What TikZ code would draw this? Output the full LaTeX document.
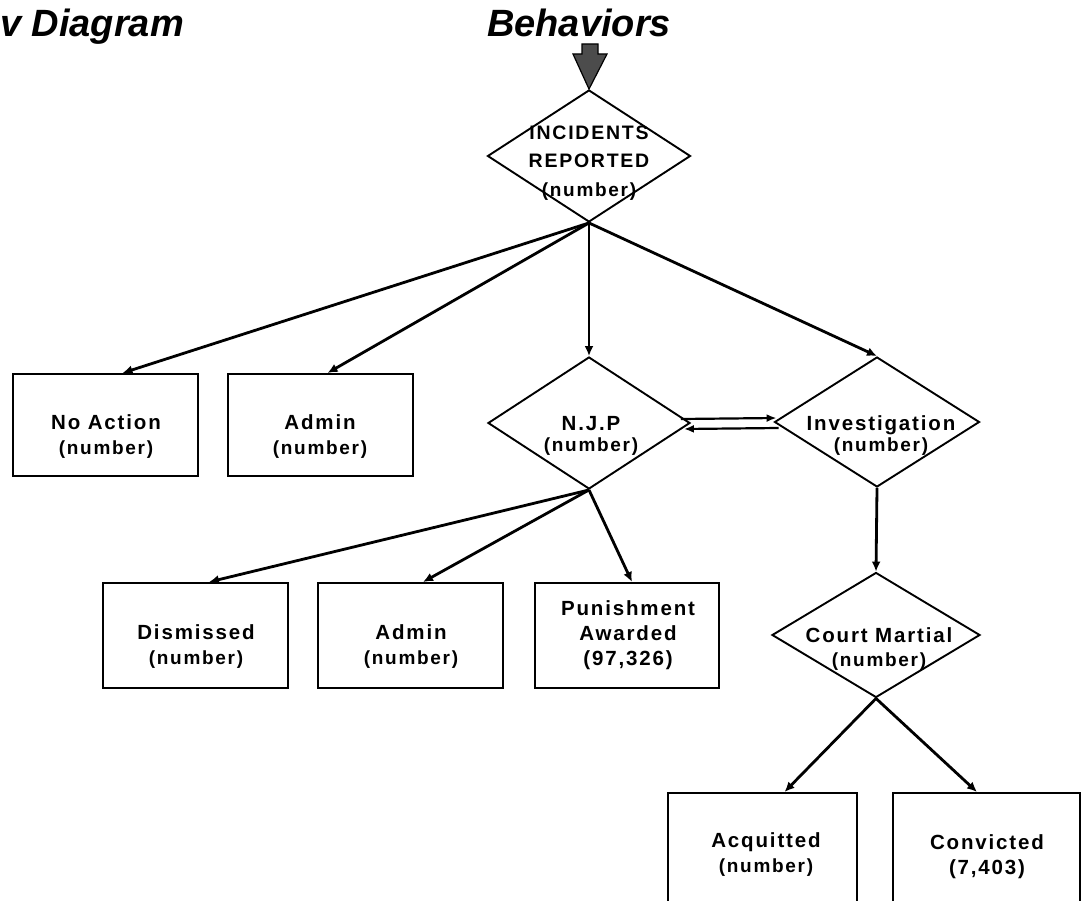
\documentclass[tikz,border=0pt]{standalone}
\usepackage{fontspec}
\setmainfont{Liberation Sans}
\newfontfamily\lblfont[LetterSpace=9]{Liberation Sans}
\usetikzlibrary{shapes.geometric,arrows.meta}
\newcommand\numtxt{{\fontsize{19}{25}\selectfont(number)}}
\begin{document}
\begin{tikzpicture}[x=1pt,y=-1pt,
  title/.style={font=\fontsize{38}{38}\selectfont\bfseries\itshape, inner sep=0, anchor=base west},
  lbl/.style={font=\lblfont\bfseries\fontsize{20.5}{25}\selectfont, align=center, inner sep=0},
  box/.style={draw, line width=2pt, minimum width=185pt, minimum height=102pt, inner sep=0},
  dia/.style={draw, diamond, line width=1.9pt, inner sep=0},
  arr/.style={line width=2.8pt, -{Latex[length=10pt,width=9pt]}},
  arrthin/.style={line width=2.2pt, -{Latex[length=10pt,width=8pt]}}
]
\useasboundingbox (0,0) rectangle (1081,901);
\clip (0,0) rectangle (1081,901);

% titles
\node[title] (t1) at (0,37) {v Diagram};
\node[title] (t2) at (487,37) {Behaviors};

% diamonds
\node[dia, minimum width=203pt, minimum height=132pt] (inc) at (589,156) {};
\node[lbl, font=\lblfont\bfseries\fontsize{19.5}{28.5}\selectfont] (incl) at (589,163) {INCIDENTS\\REPORTED\\\numtxt};

\node[dia, minimum width=202pt, minimum height=132pt] (njp) at (589,423) {};
\node[lbl, font=\lblfont\bfseries\fontsize{20.5}{21}\selectfont] (njpl) at (591,436) {N.J.P\\\numtxt};

\node[dia, minimum width=205pt, minimum height=130pt] (inv) at (877,422) {};
\node[lbl, font=\lblfont\bfseries\fontsize{20.5}{21}\selectfont] (invl) at (881,436) {Investigation\\\numtxt};

\node[dia, minimum width=208pt, minimum height=125pt] (cm) at (876,635) {};
\node[lbl, font=\lblfont\bfseries\fontsize{20.5}{24}\selectfont] (cml) at (879,649) {Court Martial\\\numtxt};

% block arrow from Behaviors
\draw[fill=black!70, line width=1.2pt, line join=miter]
  (582,44) -- (598,44) -- (598,54) -- (607,54) -- (inc.north) -- (573,54) -- (582,54) -- cycle;

% boxes row 1
\node[box] (noact) at (105.5,425) {};
\node[lbl] (noactl) at (106,437) {No Action\\\numtxt};
\node[box] (adm1) at (320.5,425) {};
\node[lbl] (adm1l) at (320,437) {Admin\\\numtxt};

% boxes row 2
\node[box, minimum height=105pt] (dis) at (195.5,635.5) {};
\node[lbl] (disl) at (196,647) {Dismissed\\\numtxt};
\node[box, minimum height=105pt] (adm2) at (410.5,635.5) {};
\node[lbl] (adm2l) at (411,647) {Admin\\\numtxt};
\node[box, minimum width=184pt, minimum height=105pt] (pun) at (627,635.5) {};
\node[lbl] (punl) at (628,635) {Punishment\\Awarded\\(97,326)};

% boxes row 3 (cut off at bottom)
\node[box, minimum width=189pt, minimum height=124pt] (acq) at (762.5,855) {};
\node[lbl] (acql) at (766,855) {Acquitted\\\numtxt};
\node[box, minimum width=187pt, minimum height=124pt] (con) at (986.5,855) {};
\node[lbl] (conl) at (987,857) {Convicted\\(7,403)};

% connectors
\draw[arr] (inc.south) -- ([xshift=17pt]noact.north);
\draw[arr] (inc.south) -- ([xshift=7pt]adm1.north);
\draw[arr] (inc.south) -- (njp.north);
\draw[arr] (inc.south) -- (inv.north);

\draw[arrthin] ([xshift=-10pt,yshift=4pt]njp.east) -- ([xshift=3pt,yshift=4pt]inv.west);
\draw[arrthin] ([xshift=5pt,yshift=-6pt]inv.west) -- ([xshift=-7pt,yshift=-6pt]njp.east);

\draw[arr] (njp.south) -- ([xshift=13.5pt]dis.north);
\draw[arr] (njp.south) -- ([xshift=12.5pt]adm2.north);
\draw[arr] (njp.south) -- ([xshift=5pt]pun.north);

\draw[arr] (inv.south) -- (cm.north);
\draw[arr] (cm.south) -- ([xshift=22pt]acq.north);
\draw[arr] (cm.south) -- ([xshift=-9.5pt]con.north);
\end{tikzpicture}
\end{document}
